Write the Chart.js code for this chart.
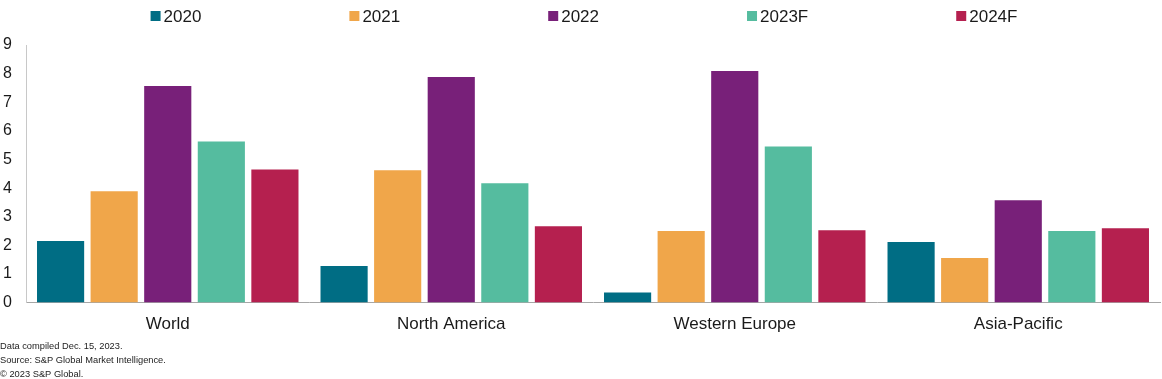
<!DOCTYPE html>
<html>
<head>
<meta charset="utf-8">
<script src="https://cdn.jsdelivr.net/npm/chart.js@4.4.0/dist/chart.umd.min.js"></script>
<style>
  html, body { margin: 0; padding: 0; background: #fff; }
  #wrap { width: 1162px; height: 379px; position: relative; }
</style>
</head>
<body>
<div id="wrap"><canvas id="growthChart"></canvas></div>
<script>
// regions and yearly values
const regions = ['World', 'North America', 'Western Europe', 'Asia-Pacific'];
const y2020 = [2.15, 1.28, 0.35, 2.12];
const y2021 = [3.89, 4.62, 2.50, 1.56];
const y2022 = [7.57, 7.88, 8.09, 3.58];
const y2023F = [5.63, 4.17, 5.45, 2.50];
const y2024F = [4.65, 2.67, 2.53, 2.60];
const seriesNames = ['2020', '2021', '2022', '2023F', '2024F'];
const footnotes = ['Data compiled Dec. 15, 2023.', 'Source: S&P Global Market Intelligence.', '\u00a9 2023 S&P Global.'];

const colors = ['#006D84', '#F0A64A', '#782079', '#55BC9F', '#B5204F'];
const values = [y2020, y2021, y2022, y2023F, y2024F];

const FONT = '"Liberation Sans", Arial, sans-serif';
Chart.defaults.font.family = FONT;
Chart.defaults.color = '#1a1a1a';

// wide-spaced legend on top + footnote text under the chart
const extrasPlugin = {
    id: 'extras',
    afterDraw(chart) {
        const c = chart.ctx;
        c.save();
        // legend
        c.font = '17px ' + FONT;
        c.textBaseline = 'middle';
        const gap = 148, box = 10, boxGap = 3;
        const widths = chart.data.datasets.map(d => box + boxGap + c.measureText(d.label).width);
        const total = widths.reduce((a, b) => a + b, 0) + gap * (widths.length - 1);
        let x = (chart.width - total) / 2 + 3;
        const ly = 16;
        chart.data.datasets.forEach((d, i) => {
            c.fillStyle = d.backgroundColor;
            c.fillRect(x, ly - 5, box, box);
            c.fillStyle = '#1a1a1a';
            c.fillText(d.label, x + box + boxGap, ly + 1);
            x += widths[i] + gap;
        });
        // footnotes
        c.font = '9.3px ' + FONT;
        c.fillStyle = '#222';
        footnotes.forEach((t, i) => c.fillText(t, 0, 346 + i * 14));
        c.restore();
    }
};

const ctx = document.getElementById('growthChart').getContext('2d');

new Chart(ctx, {
    type: 'bar',
    data: {
        labels: regions,
        datasets: seriesNames.map((name, i) => ({
            label: name,
            data: values[i],
            backgroundColor: colors[i],
            borderWidth: 0,
            barPercentage: 0.88,
            categoryPercentage: 0.945
        }))
    },
    options: {
        responsive: true,
        maintainAspectRatio: false,
        animation: false,
        layout: {
            padding: { left: 0, right: 2, top: 45, bottom: 32 }
        },
        plugins: {
            legend: { display: false },
            tooltip: { enabled: false }
        },
        scales: {
            x: {
                grid: { display: false, drawTicks: false },
                border: { display: true, color: '#a6a6a6', width: 1 },
                ticks: { font: { size: 17 }, color: '#1a1a1a', padding: 12 }
            },
            y: {
                min: 0,
                max: 9,
                afterFit(axis) { axis.width = 26; },
                grid: { display: false, drawTicks: false },
                border: { display: true, color: '#c8c8c8', width: 1 },
                ticks: { stepSize: 1, autoSkip: false, font: { size: 16 }, color: '#1a1a1a', padding: 14 }
            }
        }
    },
    plugins: [extrasPlugin]
});
</script>
</body>
</html>
